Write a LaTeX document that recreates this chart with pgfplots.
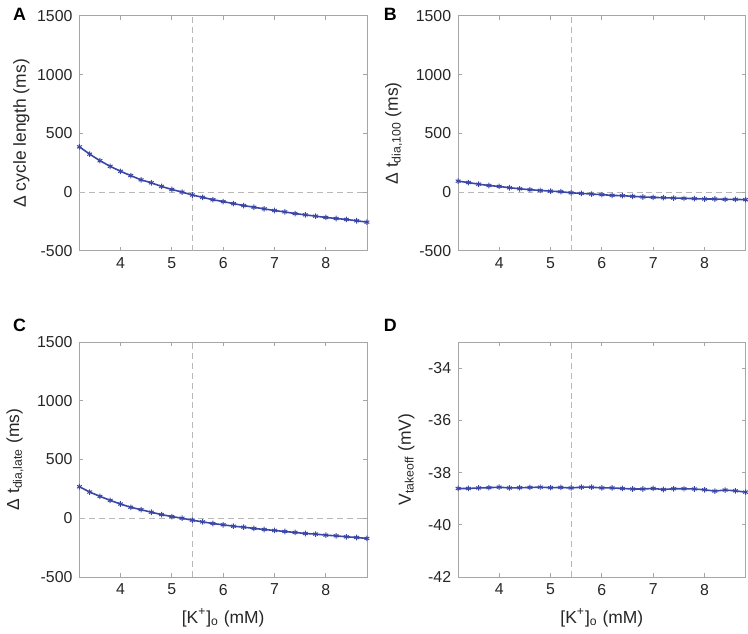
\documentclass[border=0pt]{standalone}
\usepackage{pgfplots}
\pgfplotsset{compat=1.18}
\usepackage{fontspec}
\setmainfont{Liberation Sans}
\definecolor{lineblue}{HTML}{3A46A6}
\definecolor{axgray}{HTML}{A6A6A6}
\definecolor{refgray}{HTML}{B8B8B8}
\definecolor{txt}{HTML}{262626}

\pgfplotstableread{
x y
3.2 385
3.4 323
3.6 267
3.8 219
4.0 177
4.2 140
4.4 104
4.6 79
4.8 48
5.0 22
5.2 0
5.4 -25
5.6 -45
5.8 -65
6.0 -81
6.2 -98
6.4 -115
6.6 -129
6.8 -143
7.0 -157
7.2 -169
7.4 -183
7.6 -194
7.8 -205
8.0 -216
8.2 -225
8.4 -233
8.6 -244
8.8 -256
}\cycledata

\pgfplotstableread{
x y
3.2 93
3.4 81
3.6 67
3.8 56
4.0 48
4.2 37
4.4 28
4.6 20
4.8 14
5.0 8
5.2 3
5.4 -6
5.6 -11
5.8 -17
6.0 -22
6.2 -28
6.4 -31
6.6 -36
6.8 -42
7.0 -45
7.2 -48
7.4 -51
7.6 -53
7.8 -56
8.0 -59
8.2 -59
8.4 -62
8.6 -62
8.8 -65
}\diahundred

\pgfplotstableread{
x y
3.2 268
3.4 223
3.6 186
3.8 152
4.0 121
4.2 93
4.4 73
4.6 51
4.8 31
5.0 14
5.2 0
5.4 -17
5.6 -31
5.8 -45
6.0 -56
6.2 -68
6.4 -76
6.6 -87
6.8 -96
7.0 -104
7.2 -113
7.4 -121
7.6 -130
7.8 -135
8.0 -144
8.2 -150
8.4 -158
8.6 -164
8.8 -172
}\dialate

\pgfplotstableread{
x y
3.2 -38.61
3.4 -38.61
3.6 -38.59
3.8 -38.58
4.0 -38.56
4.2 -38.59
4.4 -38.58
4.6 -38.57
4.8 -38.56
5.0 -38.58
5.2 -38.57
5.4 -38.59
5.6 -38.56
5.8 -38.56
6.0 -38.59
6.2 -38.59
6.4 -38.61
6.6 -38.63
6.8 -38.63
7.0 -38.61
7.2 -38.65
7.4 -38.62
7.6 -38.62
7.8 -38.63
8.0 -38.66
8.2 -38.71
8.4 -38.67
8.6 -38.70
8.8 -38.75
}\takeoff

\pgfplotsset{
  panel/.style={
    width=145pt, height=118.5pt, scale only axis,
    xmin=3.2, xmax=8.8,
    xtick={4,5,6,7,8},
    tick align=inside, tick pos=both,
    major tick length=2pt,
    axis line style={color=axgray, line width=0.4pt},
    every tick/.style={color=axgray, line width=0.4pt},
    tick label style={font=\fontsize{8}{9}\selectfont, color=txt},
    label style={font=\fontsize{8.8}{10}\selectfont, color=txt},
    /pgf/number format/assume math mode=true,
    scaled y ticks=false,
    clip=false,
  },
  msplot/.style={
    ymin=-500, ymax=1500, ytick={-500,0,500,1000,1500},
    /pgf/number format/1000 sep={},
  },
  ser/.style={color=lineblue, line width=0.8pt, mark=asterisk, mark size=1.4pt,
    mark options={line width=0.5pt}},
  refl/.style={color=refgray, dashed, line width=0.4pt, dash pattern=on 3pt off 2pt},
}

\begin{document}
\begin{tikzpicture}
\path (0,0) rectangle (374pt,318.5pt);

\begin{axis}[panel, msplot, at={(37pt,192pt)}, anchor=south west,
  ylabel shift=-3pt,
  ylabel={Δ cycle length (ms)}]
\addplot[refl, forget plot] coordinates {(3.2,0) (8.8,0)};
\addplot[refl, forget plot] coordinates {(5.4,-500) (5.4,1500)};
\addplot[ser] table[x=x,y=y] {\cycledata};
\end{axis}
\node[font=\bfseries\fontsize{9}{10}\selectfont, anchor=north west] at (0pt,318pt) {A};

\begin{axis}[panel, msplot, at={(228pt,192pt)}, anchor=south west,
  ylabel={Δ t\textsubscript{dia,100} (ms)}]
\addplot[refl, forget plot] coordinates {(3.2,0) (8.8,0)};
\addplot[refl, forget plot] coordinates {(5.4,-500) (5.4,1500)};
\addplot[ser] table[x=x,y=y] {\diahundred};
\end{axis}
\node[font=\bfseries\fontsize{9}{10}\selectfont, anchor=north west] at (187pt,318pt) {B};

\begin{axis}[panel, msplot, at={(37pt,27.5pt)}, anchor=south west,
  ylabel={Δ t\textsubscript{dia,late} (ms)},
  xlabel={[K\textsuperscript{+}]\textsubscript{o} (mM)}]
\addplot[refl, forget plot] coordinates {(3.2,0) (8.8,0)};
\addplot[refl, forget plot] coordinates {(5.4,-500) (5.4,1500)};
\addplot[ser] table[x=x,y=y] {\dialate};
\end{axis}
\node[font=\bfseries\fontsize{9}{10}\selectfont, anchor=north west] at (0pt,161pt) {C};

\begin{axis}[panel, at={(228pt,27.5pt)}, anchor=south west,
  ymin=-42, ymax=-33, ytick={-42,-40,-38,-36,-34},
  ylabel={V\textsubscript{takeoff} (mV)},
  xlabel={[K\textsuperscript{+}]\textsubscript{o} (mM)}]
\addplot[refl, forget plot] coordinates {(5.4,-42) (5.4,-33)};
\addplot[ser] table[x=x,y=y] {\takeoff};
\end{axis}
\node[font=\bfseries\fontsize{9}{10}\selectfont, anchor=north west] at (187pt,161pt) {D};
\end{tikzpicture}
\end{document}
